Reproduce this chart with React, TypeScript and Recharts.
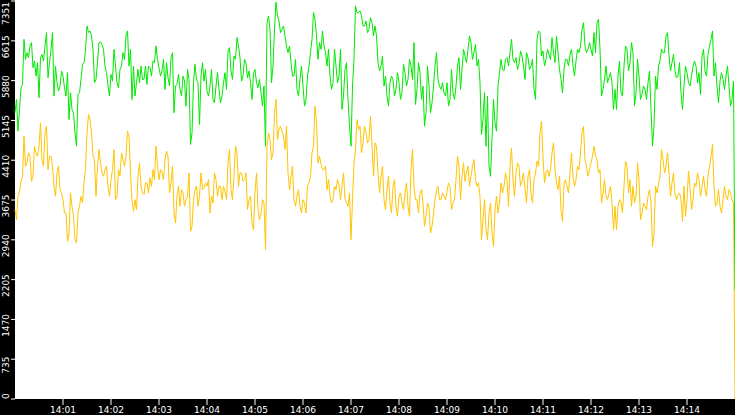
import React from 'react';
import { LineChart, Line, XAxis, YAxis } from 'recharts';

// readings every 3.75 s from 14:00:00, plus the readings taken half a step later
const START_HOUR = 14;
const SAMPLE_STEP_SEC = 3.75;

const greenValues: number[] = [
  5285, 4946, 5748, 6643, 6396, 6520, 6119, 5964, 5563, 6365, 6520, 5933, 6458, 5594, 5841, 5779, 5964, 5594, 5162, 5347,
  4915, 5625, 5902, 6211, 6890, 6798, 6458, 5902, 6582, 6551, 6149, 5779, 5995, 6458, 5841, 6088, 6396, 6705, 6149, 5532,
  5595, 6088, 6150, 5903, 5811, 6119, 6243, 6520, 6119, 6058, 5718, 5934, 6304, 5286, 5811, 5718, 5965, 5410, 5903, 4916,
  6181, 5842, 5965, 5872, 5687, 5780, 5533, 5780, 5718, 5595, 6027, 6428, 6058, 6335, 6675, 6304, 5965, 6212, 6058, 5533,
  6088, 5749, 5656, 5780, 6952, 6829, 6150, 7330, 6983, 6829, 6705, 6397, 6212, 5965, 5718, 5903, 5780, 5533, 6150, 6644,
  7014, 6273, 6459, 6520, 6150, 5965, 5842, 6150, 5965, 5348, 6088, 5533, 4669, 6273, 7137, 7168, 6890, 6983, 6829, 6952,
  6890, 6212, 6150, 5780, 5595, 5842, 5903, 5718, 5842, 5656, 6027, 5903, 6150, 6582, 5718, 6027, 5780, 5286, 5780, 5471,
  6150, 5903, 5718, 5656, 5842, 5533, 5656, 5780, 6304, 6088, 6335, 6459, 6582, 6397, 6150, 5842, 5163, 4669, 4300, 4793,
  5100, 5780, 6273, 6058, 6304, 6397, 6273, 6304, 6181, 6335, 5903, 6304, 6150, 5718, 6644, 6767, 6428, 6273, 6366, 6675,
  6212, 6397, 5903, 6088, 6273, 6366, 6150, 6243, 6397, 6829, 6520, 6459, 6459, 6767, 6952, 6459, 5718, 6150, 5934, 5842,
  5718, 5965, 5656, 6150, 6459, 6212, 6397, 5656, 5965, 5626, 5718, 5842, 5348, 5039, 5718, 6243, 6397, 6705, 6335, 6212,
  6058, 5965, 5656, 5780, 6027, 5780, 6150, 6150, 6027, 6335, 6058, 6366, 6644, 5965, 5780, 5872, 5903, 5965, 5780, 5533,
  2010,
];

const greenMidValues: number[] = [
  5533, 5348, 5811, 6273, 6304, 6582, 6243, 6212, 6304, 6243, 6767, 6212, 6767, 6150, 5687, 6058, 5749, 6027, 5656, 5286,
  4669, 5656, 6181, 6428, 6767, 6705, 5842, 6212, 6594, 6459, 6027, 5595, 5872, 6150, 5749, 6150, 6273, 6798, 6459, 6150,
  5842, 5842, 5903, 6150, 6150, 5965, 6212, 6273, 5965, 6273, 6212, 5780, 6397, 5780, 5996, 5595, 5872, 6088, 4700, 5842,
  5903, 5070, 6212, 6088, 5595, 6088, 5471, 6027, 5471, 5842, 5718, 6489, 5903, 6273, 6520, 5872, 6273, 5934, 5842, 6027,
  5842, 5903, 5410, 4669, 7075, 5842, 6829, 7075, 6767, 6890, 6520, 6520, 5965, 6273, 5595, 6150, 5410, 5965, 6397, 7137,
  6705, 6582, 6798, 6397, 6459, 5718, 6459, 5842, 6459, 5595, 6212, 5039, 5780, 7261, 7137, 7075, 6890, 6767, 7045, 6705,
  6705, 6058, 6335, 5965, 5410, 5965, 5595, 6027, 5533, 6181, 5780, 6273, 5903, 5440, 6212, 5533, 5039, 6150, 5286, 5780,
  6397, 5780, 5842, 5595, 5410, 6088, 5533, 6150, 5718, 6459, 6212, 6705, 6273, 6551, 6273, 4885, 5656, 5595, 4114, 5533,
  4947, 6027, 6088, 6273, 6150, 6644, 6212, 6088, 6428, 6150, 6397, 6088, 6273, 5533, 6798, 6335, 6150, 6459, 6273, 6397,
  6705, 6088, 5656, 6273, 6150, 6459, 5965, 6459, 6520, 6952, 6397, 6582, 6335, 6397, 7014, 5595, 5903, 5842, 6027, 5348,
  5348, 6243, 5595, 6520, 6058, 6582, 5410, 6273, 5533, 5780, 5533, 6058, 4669, 5965, 6150, 6459, 6397, 6767, 6058, 6366,
  5934, 6212, 5348, 6150, 5842, 5965, 6243, 5842, 5626, 6459, 5965, 6520, 6798, 6212, 5471, 6027, 5718, 6150, 5410, 5872,
];

const amberValues: number[] = [
  3497, 3744, 4021, 4854, 4361, 4484, 4114, 4546, 4669, 4422, 4916, 4237, 4484, 3929, 4176, 3867, 3682, 3435, 3065, 3559,
  2942, 3435, 3744, 3990, 4916, 5163, 4484, 3744, 4607, 4176, 4237, 3929, 4052, 4607, 3744, 4114, 4422, 4484, 4854, 3682,
  3682, 4114, 3929, 3775, 3991, 4083, 4237, 4669, 4052, 4176, 4422, 4484, 3991, 3435, 3744, 3559, 3806, 3682, 4176, 3189,
  3867, 3559, 4176, 3898, 3929, 3435, 3620, 4052, 3929, 3682, 3837, 4361, 3867, 4114, 4546, 4176, 4021, 4176, 3682, 3250,
  3806, 3497, 3435, 3620, 4669, 4793, 4546, 5533, 4978, 4947, 4608, 4176, 4114, 3682, 3744, 3559, 3682, 3435, 3991, 4546,
  5410, 4361, 4330, 4237, 3867, 3744, 3682, 3867, 3960, 3929, 3682, 3559, 2942, 4361, 5163, 5039, 4731, 4916, 4793, 4669,
  4731, 4176, 4114, 3682, 3867, 3620, 3929, 3559, 3744, 3620, 3806, 3559, 4237, 3929, 3682, 3806, 3620, 3374, 3528, 3189,
  3682, 3929, 3682, 3744, 3837, 3929, 3620, 4052, 4299, 4114, 4021, 4299, 4114, 4422, 3929, 3744, 3312, 3127, 3435, 3065,
  3497, 3435, 3991, 3929, 4052, 4299, 4052, 4176, 4299, 4021, 3867, 4114, 3806, 4052, 4392, 4916, 4484, 4176, 4114, 4546,
  4237, 3867, 3497, 3991, 3929, 4176, 4083, 4052, 4237, 4916, 4422, 4114, 4361, 4669, 4422, 4237, 3806, 3744, 3806, 3620,
  3559, 3559, 3620, 3929, 4299, 4052, 3929, 3744, 4052, 3435, 3559, 3744, 3620, 3065, 3806, 4114, 4422, 4299, 4176, 3991,
  3775, 3775, 3682, 3929, 3682, 3929, 3682, 3929, 4052, 3929, 3867, 4114, 4484, 3929, 3620, 3559, 3682, 3744, 3867, 3682,
  0,
];

const amberMidValues: number[] = [
  3312, 3836, 4114, 4299, 4546, 4021, 4669, 4484, 5101, 4299, 5039, 4484, 4299, 3744, 4299, 3806, 3435, 2911, 3806, 3374,
  2880, 3559, 3620, 4237, 5255, 4916, 4422, 4299, 4361, 4114, 4299, 3744, 4237, 3682, 4237, 4546, 4299, 4947, 4176, 3466,
  3497, 4361, 3806, 3991, 3806, 3929, 4052, 4299, 4237, 4052, 4577, 3806, 4299, 3250, 3929, 3867, 3559, 3744, 3096, 3682,
  3929, 3744, 3867, 3991, 4052, 3744, 4176, 3744, 3929, 3929, 3682, 4608, 3682, 4669, 3929, 4176, 4052, 3497, 3744, 3127,
  4176, 3312, 3682, 2757, 4916, 4422, 5286, 4793, 5039, 4854, 5039, 3867, 4299, 3559, 3867, 3435, 3620, 3929, 4114, 4669,
  5101, 4484, 4237, 4299, 4052, 3620, 3929, 4052, 3682, 4176, 3620, 3806, 3682, 4608, 4978, 4546, 5039, 4731, 5225, 4114,
  4669, 3806, 4299, 3497, 4114, 3435, 4052, 3374, 3806, 3497, 3991, 3374, 4608, 3682, 3435, 3867, 3189, 3620, 3065, 3435,
  3867, 3682, 3806, 3682, 3991, 3497, 3682, 4484, 3682, 4361, 4176, 3929, 4299, 4052, 3991, 2942, 3682, 2942, 3620, 2818,
  3744, 3620, 3806, 4176, 3559, 4638, 3744, 4361, 3929, 4176, 3620, 4237, 3620, 4176, 4299, 5132, 3991, 4237, 4237, 4731,
  3991, 4114, 3281, 4052, 3806, 4546, 3929, 4299, 4546, 5039, 4299, 4237, 4484, 4484, 4176, 3620, 4052, 3682, 3929, 3127,
  3127, 3682, 3435, 4392, 3806, 3559, 3620, 4361, 3312, 3620, 3497, 3867, 2818, 3929, 3960, 4608, 4176, 4546, 3744, 4176,
  3682, 3806, 3281, 3374, 4206, 3497, 3991, 4176, 3744, 4114, 3744, 4299, 4700, 3559, 3867, 3435, 3929, 3682, 3806, 3620,
];

const yTicks = [0, 735, 1470, 2205, 2940, 3675, 4410, 5145, 5880, 6615, 7351];
const timeTickLabels = [
  '14:01', '14:02', '14:03', '14:04', '14:05', '14:06', '14:07',
  '14:08', '14:09', '14:10', '14:11', '14:12', '14:13', '14:14',
];

const toSeconds = (label: string) => {
  const [h, m] = label.split(':').map(Number);
  return (h - START_HOUR) * 3600 + m * 60;
};

const chartData: { t: number; green: number; amber: number }[] = [];
greenValues.forEach((g, i) => {
  chartData.push({ t: i * SAMPLE_STEP_SEC, green: g, amber: amberValues[i] });
  if (i < greenMidValues.length) {
    chartData.push({
      t: (i + 0.5) * SAMPLE_STEP_SEC,
      green: greenMidValues[i],
      amber: amberMidValues[i],
    });
  }
});

const W = 735;
const H = 415;
const LEFT_BAND = 15;
const BOTTOM_BAND = 16;
const PLOT_BOTTOM = H - BOTTOM_BAND;
const FONT = '"DejaVu Sans", sans-serif';

const YTick = (props: any) => {
  const { y, payload } = props;
  const label = String(payload.value);
  const half = label.length * 2.9;
  let cy = y + 6;
  if (cy - half < 2) cy = 2 + half;
  if (cy + half > PLOT_BOTTOM) cy = PLOT_BOTTOM - half;
  return (
    <g>
      <line x1={11} x2={LEFT_BAND} y1={y} y2={y} stroke="#fff" strokeWidth={1} />
      <text
        x={9}
        y={cy}
        fill="#fff"
        fontSize={9}
        fontFamily={FONT}
        textAnchor="middle"
        transform={`rotate(-90, 9, ${cy})`}
      >
        {label}
      </text>
    </g>
  );
};

const XTick = (props: any) => {
  const { x, payload } = props;
  const secs = payload.value as number;
  const label = timeTickLabels.find(l => toSeconds(l) === secs) ?? '';
  return (
    <g>
      <line x1={x} x2={x} y1={PLOT_BOTTOM} y2={PLOT_BOTTOM + 6} stroke="#fff" strokeWidth={1} />
      <text x={x} y={H - 2} fill="#fff" fontSize={9} fontFamily={FONT} textAnchor="middle">
        {label}
      </text>
    </g>
  );
};

const App: React.FC = () => {
  return (
    <div style={{ position: 'fixed', left: 0, top: 0, width: W, height: H, background: '#fff' }}>
      <div style={{ position: 'absolute', left: 0, top: 0, width: LEFT_BAND, height: H, background: '#000' }} />
      <div style={{ position: 'absolute', left: 0, top: PLOT_BOTTOM, width: W, height: BOTTOM_BAND, background: '#000' }} />
      <div style={{ position: 'absolute', left: 0, top: 0 }}>
        <LineChart width={W} height={H} data={chartData} margin={{ top: 1, right: 0, bottom: 0, left: 0 }}>
          <XAxis
            dataKey="t"
            type="number"
            domain={[0, 900]}
            ticks={timeTickLabels.map(toSeconds)}
            interval={0}
            height={BOTTOM_BAND}
            tick={<XTick />}
            tickLine={false}
            axisLine={false}
          />
          <YAxis
            type="number"
            domain={[0, 7351]}
            ticks={yTicks}
            interval={0}
            width={LEFT_BAND}
            tick={<YTick />}
            tickLine={false}
            axisLine={false}
          />
          <Line
            type="linear"
            dataKey="amber"
            stroke="#ffc400"
            strokeWidth={1}
            dot={false}
            isAnimationActive={false}
          />
          <Line
            type="linear"
            dataKey="green"
            stroke="#00e800"
            strokeWidth={1}
            dot={false}
            isAnimationActive={false}
          />
        </LineChart>
      </div>
    </div>
  );
};

export default App;
